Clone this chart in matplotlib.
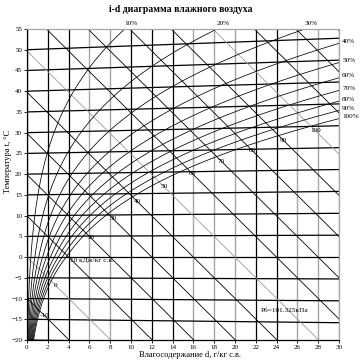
import numpy as np
import matplotlib.pyplot as plt

plt.rcParams['font.family'] = ['Liberation Serif', 'DejaVu Serif']

# barometric pressure, kPa
P_b = 101.325

# saturation pressure table, kPa (ice below 0 C)
t_sat = list(range(-20, 61))
p_sat = [0.1032, 0.1136, 0.1249, 0.1372, 0.1506, 0.1652, 0.1811, 0.1984, 0.2172, 0.2376,
         0.2599, 0.2839, 0.3099, 0.3381, 0.3686, 0.4015, 0.4371, 0.4756, 0.5170, 0.5617,
         0.6112, 0.6571, 0.7060, 0.7581, 0.8135, 0.8725, 0.9353, 1.0020, 1.0729, 1.1481,
         1.2281, 1.3129, 1.4028, 1.4981, 1.5989, 1.7057, 1.8188, 1.9383, 2.0647, 2.1982,
         2.3392, 2.4881, 2.6452, 2.8109, 2.9856, 3.1697, 3.3637, 3.5679, 3.7828, 4.0089,
         4.2467, 4.4966, 4.7592, 5.0351, 5.3247, 5.6286, 5.9475, 6.2818, 6.6324, 6.9997,
         7.3844, 7.7873, 8.2090, 8.6503, 9.1118, 9.5944, 10.099, 10.627, 11.177, 11.752,
         12.352, 12.978, 13.631, 14.312, 15.022, 15.761, 16.532, 17.335, 18.171, 19.042,
         19.946]

rh_levels = [10, 20, 30, 40, 50, 60, 70, 80, 90, 100]
rh_top = [10, 20, 30]
isotherms = list(range(-20, 60, 5))
enthalpies = list(range(-20, 140, 10))
i_labels = [-10, 0, 10, 20, 30, 40, 50, 60, 70, 80, 90, 100]
d_ticks = list(range(0, 31, 2))
t_ticks = list(range(-20, 56, 5))
d_gray = [6, 8, 16, 18, 20, 26, 28, 30]

t_arr = np.array(t_sat, dtype=float)
ps_arr = np.array(p_sat)


def chart_y(t, d):
    # oblique i-d coordinate expressed in degrees
    return t + 0.00186 * t * d / 1.006


def enthalpy_y(i, d):
    return (i - 2.501 * d) / 1.006


fig = plt.figure(figsize=(3.61, 3.63), dpi=100)
ax = fig.add_axes([27 / 361, 23 / 363, 312 / 361, 311 / 363])
ax.set_xlim(0, 30)
ax.set_ylim(-20, 55)

# moisture content grid
for d in d_ticks:
    col = '#a6a6a6' if d in d_gray else 'black'
    ax.axvline(d, color=col, lw=1.0 if d in d_gray else 0.9, zorder=1)

# isotherms
dd = np.array([0, 30])
for t in isotherms:
    ax.plot(dd, chart_y(t, dd), color='black', lw=0.9, zorder=2)

# enthalpy lines
for i in enthalpies:
    col = '#9a9a9a' if i % 50 == 0 else 'black'
    ax.plot(dd, enthalpy_y(i, dd), color=col, lw=0.6, zorder=2)

# relative humidity curves
curves = {}
for rh in rh_levels:
    pv = rh / 100 * ps_arr
    d = 622 * pv / (P_b - pv)
    y = chart_y(t_arr, d)
    curves[rh] = (d, y)
    ax.plot(d, y, color='black', lw=0.55, zorder=3)

fs = 5.2
for rh in rh_top:
    d, y = curves[rh]
    dx = np.interp(55, y, d)
    ax.text(dx + 0.6, 55.8, f'{rh}%', ha='center', va='bottom', fontsize=fs)
for rh in rh_levels[3:]:
    d, y = curves[rh]
    yr = np.interp(30, d, y)
    ax.text(30.3, yr + 0.5, f'{rh}%', ha='left', va='center', fontsize=fs)

# enthalpy labels just under the saturation curve
d_s, y_s = curves[100]
for i in i_labels:
    diff = y_s - enthalpy_y(i, d_s)
    di = np.interp(0, diff, d_s)
    if i == 10:
        ax.text(di + 0.25, enthalpy_y(i, di + 0.25) - 0.6, '10 кДж/кг с.в.',
                ha='left', va='center', fontsize=fs, zorder=4)
    else:
        dl = di + 0.45
        ax.text(dl, enthalpy_y(i, dl), str(i), ha='center', va='center',
                fontsize=fs, zorder=4)

ax.text(24.8, -12.8, 'Рб=101.325кПа', ha='center', va='center', fontsize=fs)

ax.set_xticks(d_ticks)
ax.set_yticks(t_ticks)
ax.tick_params(labelsize=5, length=2, width=0.6, pad=1.5)
ax.spines['left'].set_color('black')
ax.spines['bottom'].set_color('black')
ax.spines['top'].set_color('#a6a6a6')
ax.spines['right'].set_color('#a6a6a6')
for s in ax.spines.values():
    s.set_linewidth(0.9)
    s.set_zorder(5)

fig.text(181 / 361, 1 - 10 / 363, 'i-d диаграмма влажного воздуха', ha='center',
         va='center', fontsize=7, fontweight='bold')
fig.text(8 / 361, 1 - 161 / 363, 'Температура t, °C', rotation=90, ha='center',
         va='center', fontsize=6)
fig.text(190 / 361, 1 - 355 / 363, 'Влагосодержание d, г/кг с.в.', ha='center',
         va='center', fontsize=6)

fig.savefig('out.png', dpi=100)
